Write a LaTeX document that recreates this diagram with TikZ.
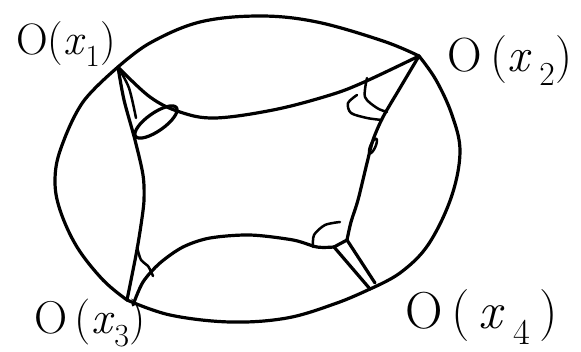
\documentclass[tikz,border=0pt]{standalone}
\begin{document}
\begin{tikzpicture}[x=1pt,y=-1pt,
  ink/.style={line width=3.2pt, line cap=round, line join=round},
  thinink/.style={line width=2.5pt, line cap=round, line join=round},
  lab/.style={anchor=base, inner sep=0pt}]
\useasboundingbox (0,0) rectangle (581,352);
\coordinate (X1) at (118,67);
\coordinate (X2) at (419,56);
\coordinate (X3) at (127,300);
\coordinate (X4) at (370,289);
\coordinate (J4a) at (334,247);
\coordinate (J4b) at (347,240);
% outer boundary, four arcs
\draw[ink] plot[smooth, tension=0.6] coordinates {(X1) (150,43) (200,22) (260,16) (317,22) (383,41) (X2)};
\draw[ink] plot[smooth, tension=0.6] coordinates {(X2) (436,80) (452,115) (460,152) (451,198) (428,245) (400,273) (X4)};
\draw[ink] plot[smooth, tension=0.6] coordinates {(X4) (337,303) (287,318) (230,322) (170,315) (X3)};
\draw[ink] plot[smooth, tension=0.6] coordinates {(X3) (103,280) (77,247) (60,210) (55,180) (61,148) (83,102) (X1)};
% top inner line
\draw[ink] plot[smooth, tension=0.6] coordinates {(X1) (150,97) (180,112) (215,118) (273,110) (327,96) (362,83) (X2)};
% left inner line
\draw[ink] plot[smooth] coordinates {(X1) (124,100) (135,140) (143,175) (144,200) (141,225) (136,255) (X3)};
\draw[thinink] plot[smooth] coordinates {(X1) (129,88) (136,118)};
% top-left bubble
\draw[ink, rotate around={35:(156,122)}] (156,122) ellipse [x radius=25pt, y radius=9pt];
% right inner line
\draw[ink] plot[smooth] coordinates {(X2) (400,88) (383,117) (373,140) (367,163) (358,200) (351,222) (J4b)};
\draw[thinink, rotate around={66:(373,146)}] (373,146) ellipse [x radius=8pt, y radius=2.5pt];
% arcs near x2
\draw[thinink] plot[smooth] coordinates {(357,95) (348,103) (351,113) (367,118) (382,120)};
\draw[thinink] plot[smooth] coordinates {(367,78) (365,97) (377,108) (387,112)};
% bottom inner line
\draw[ink] plot[smooth] coordinates {(J4a) (317,247) (293,240) (250,235) (210,238) (183,247) (160,263) (143,282) (133,305)};
\draw[ink] (J4a) -- (J4b);
\draw[ink] (J4a) -- (X4);
\draw[ink] (J4b) -- (375,283);
\draw[thinink] plot[smooth] coordinates {(313,247) (314,235) (325,225) (340,222)};
% bottom-left hook
\draw[thinink] plot[smooth] coordinates {(137,247) (141,260) (148,266) (153,276)};
% labels
\node[lab, font=\fontsize{44}{44}\selectfont] (L1) at (66,55) {O(\textit{x}\textsubscript{1})};
\node[lab, font=\fontsize{48}{48}\selectfont] (L2) at (510,72) {O\,(\textit{x}\,\textsubscript{2})};
\node[lab, font=\fontsize{46}{46}\selectfont] (L3) at (90,334) {O\,(\textit{x}\textsubscript{3})};
\node[lab, font=\fontsize{52}{52}\selectfont] (L4) at (482,329) {O\,(\,\textit{x}\,\textsubscript{4}\,)};
\end{tikzpicture}
\end{document}
